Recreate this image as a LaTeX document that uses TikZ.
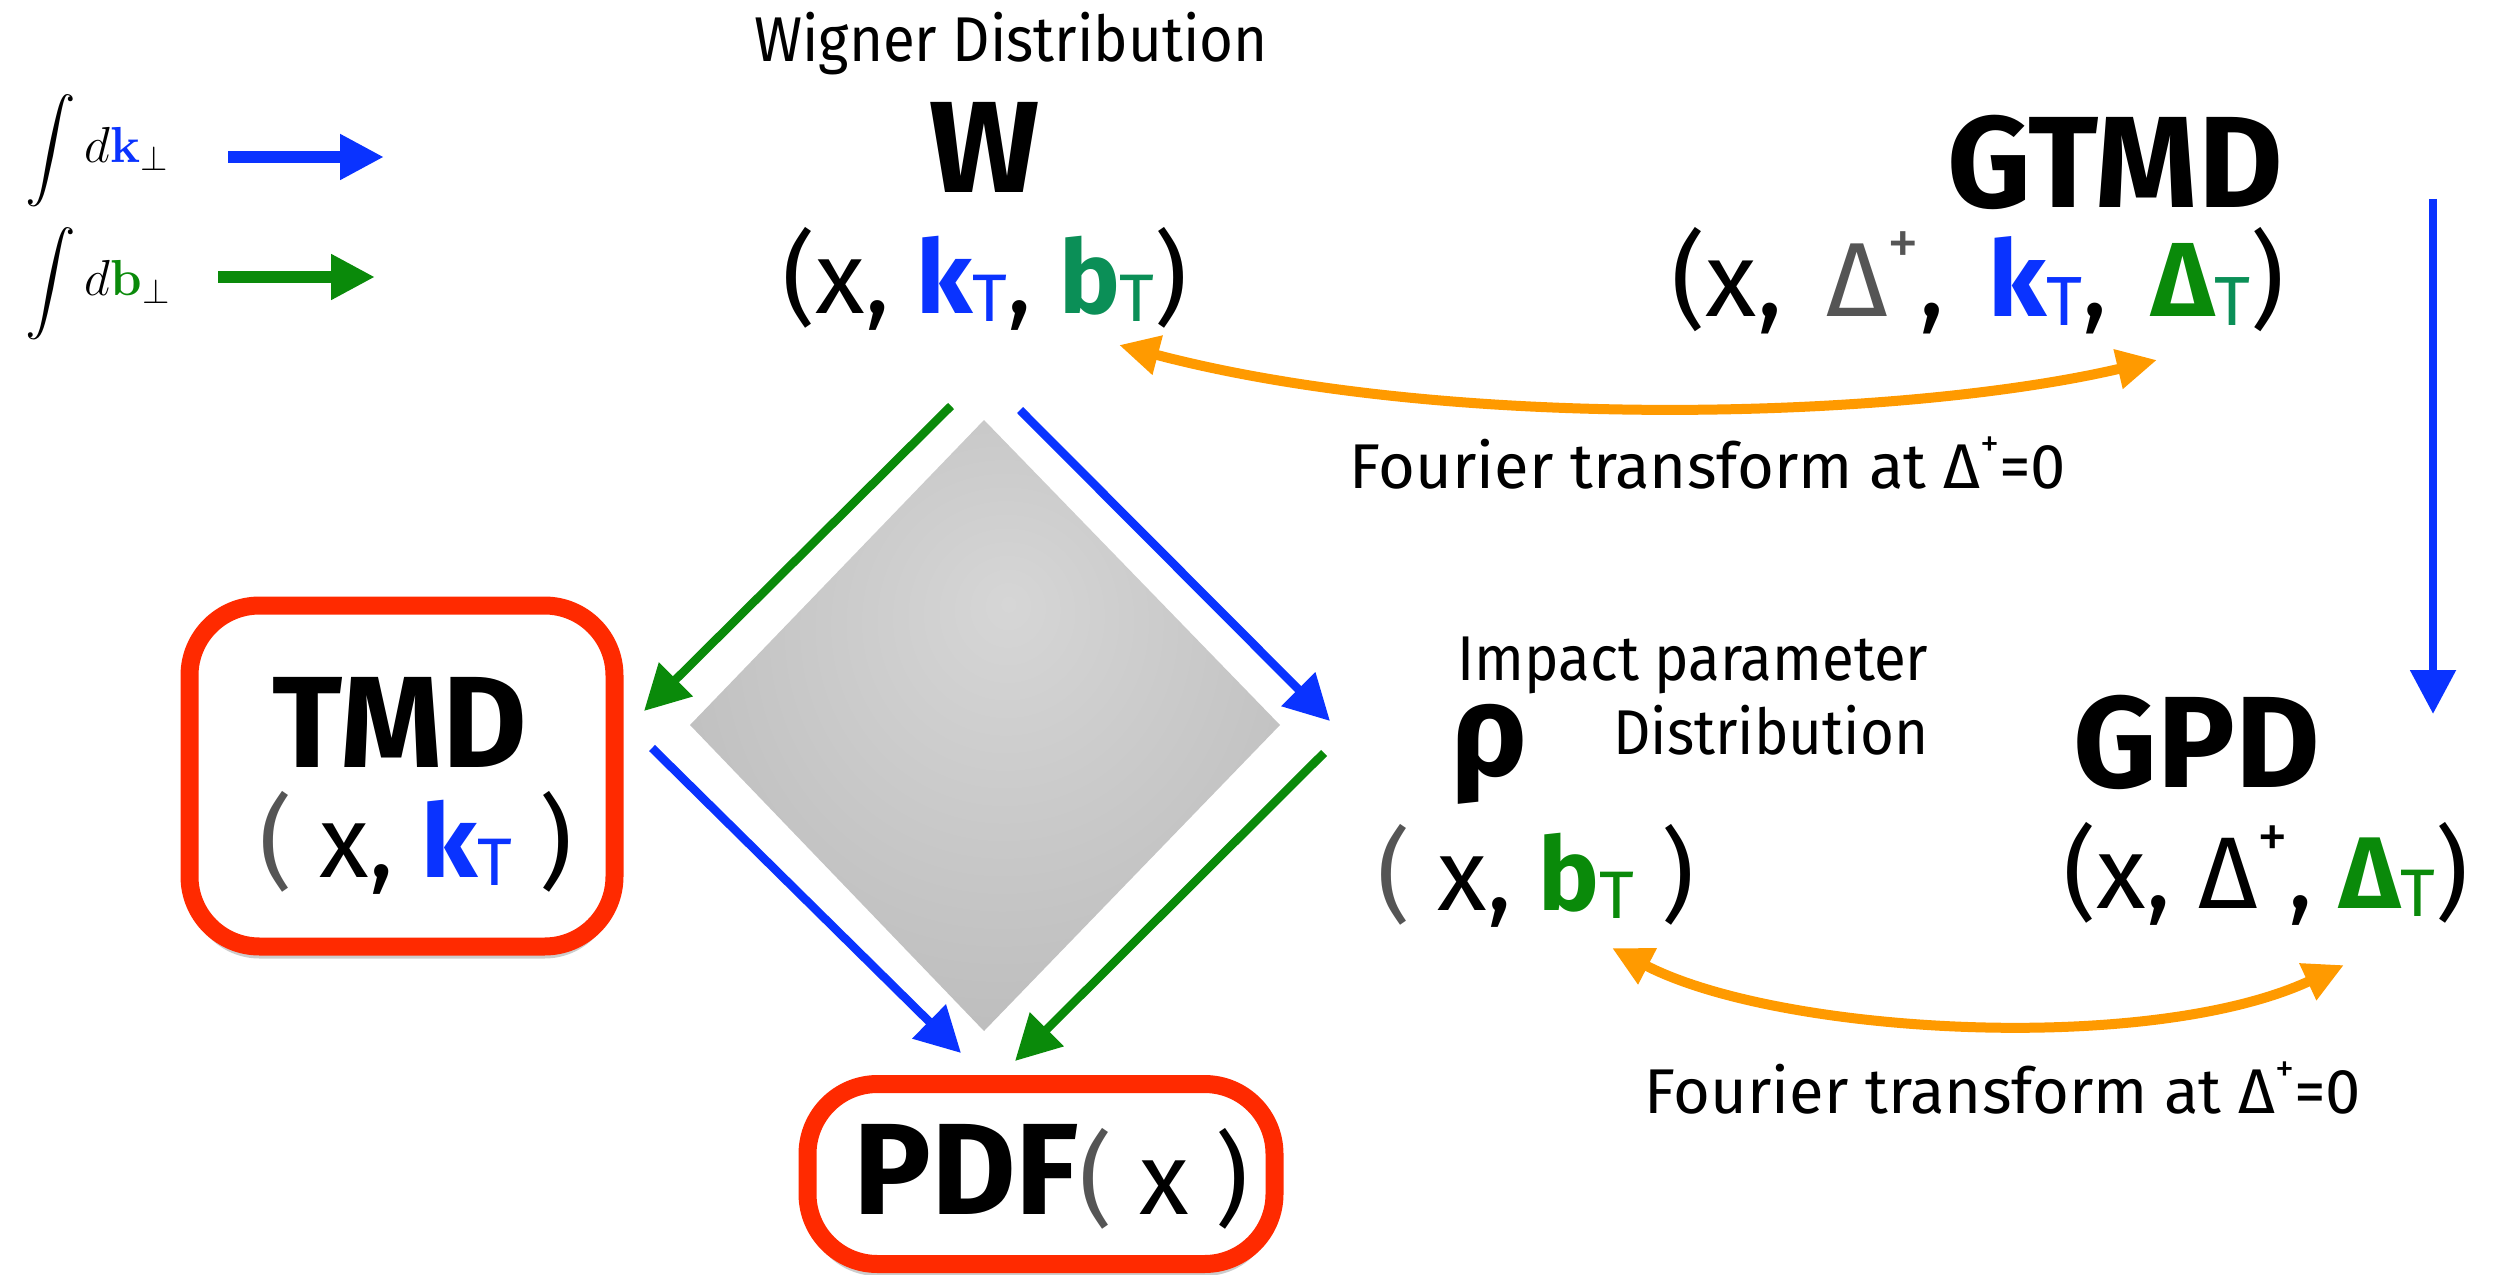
\documentclass[tikz,border=0pt]{standalone}
\usepackage{exscale}
\usepackage[no-math]{fontspec}
\setmainfont{Fira Sans}
\newfontfamily\narrowfont{Fira Sans}[FakeStretch=0.92]
\usepackage{graphicx}
\usetikzlibrary{arrows.meta,shadows}
\definecolor{kblue}{HTML}{0A33FF}
\definecolor{bgreen}{HTML}{0A8A0A}
\definecolor{tgreen}{HTML}{0B8F57}
\definecolor{fourier}{HTML}{FF9A00}
\definecolor{boxred}{HTML}{FF2A00}
\definecolor{dgray}{HTML}{555555}
\definecolor{diaA}{HTML}{D6D6D6}
\definecolor{diaB}{HTML}{ABABAB}
\pgfdeclareradialshading{diafill}{\pgfpoint{2bp}{10bp}}{color(0bp)=(diaA); color(55bp)=(diaB); color(80bp)=(diaB)}
\newcommand{\subT}{\raisebox{-0.08em}{\scalebox{0.66}{\mdseries T}}}
\newcommand{\supP}{\raisebox{0.5em}{\scalebox{0.6}{+}}}

\begin{document}
\begin{tikzpicture}[x=0.1mm,y=-0.1mm,>={Triangle[length=4.5mm,width=4.6mm]},
  every node/.style={inner sep=0pt},
  big/.style={font=\fontsize{37}{40}\selectfont\bfseries},
  argtext/.style={font=\fontsize{29}{32}\selectfont},
  note/.style={font=\fontsize{18}{21}\selectfont},
  thin note/.style={font=\fontsize{18}{21}\narrowfont},
  redbox/.style={draw=boxred,line width=1.8mm,fill=white,rounded corners=7mm,drop shadow={opacity=0.4,shadow xshift=0mm,shadow yshift=-1.2mm}},
  leg/.style={line width=1.2mm,-{Triangle[length=4.4mm,width=4.3mm]}},
  flow/.style={line width=0.85mm,->},
  ft/.style={line width=1mm,fourier,{Triangle[length=4mm,width=3.8mm]}-{Triangle[length=4mm,width=3.8mm]}}]
\useasboundingbox (0,0) rectangle (2495,1275);
% legend
\node[anchor=base west,font=\fontsize{14.4}{16}\selectfont] (lk) at (25,163) {$\displaystyle\int d{\color{kblue}\mathbf{k}}_\perp$};
\node[anchor=base west,font=\fontsize{14.4}{16}\selectfont] (lb) at (25,296) {$\displaystyle\int d{\color{bgreen}\mathbf{b}}_\perp$};
\coordinate (lk1) at (228,157); \coordinate (lk2) at (384,157);
\coordinate (lb1) at (218,277); \coordinate (lb2) at (375,277);
\draw[leg,kblue] (lk1)--(lk2);
\draw[leg,bgreen] (lb1)--(lb2);
% top row
\node[thin note,anchor=base] (wig) at (1011,62) {Wigner Distribution};
\node[big,anchor=base] (w) at (985,193) {W};
\node[argtext,anchor=base] (wargs) at (985,313) {(x, {\bfseries\color{kblue}k}{\color{kblue}\subT}, {\bfseries\color{tgreen}b}{\color{tgreen}\subT})};
\node[big,anchor=base] (gtmd) at (2115,208) {GTMD};
\node[font=\fontsize{30}{33}\selectfont,anchor=base] (gargs) at (1978,317) {(x,\hspace{0.15em} {\color{dgray}Δ\supP},\hspace{0.15em} {\bfseries\color{kblue}k}{\color{kblue}\subT},\hspace{0.15em} {\bfseries\color{bgreen}Δ}{\color{tgreen}\subT})};
\node[note,anchor=base] (ft1) at (1708,488) {Fourier transform at Δ\supP=0};
% diamond
\shade[shading=diafill] (984,420) -- (1280,725) -- (984,1031) -- (690,725) -- cycle;
% boxes
\node[redbox,minimum width=42.5mm,minimum height=34.1mm] (tmdbox) at (402,776) {};
\node[big,anchor=base] (tmd) at (400,767) {TMD};
\node[argtext,anchor=base] (tmdargs) at (416,877) {{\color{dgray}(} x, {\bfseries\color{kblue}k}{\color{kblue}\subT} )};
\node[redbox,minimum width=46.7mm,minimum height=18mm] (pdfbox) at (1041,1174) {};
\node[big,anchor=base] (pdf) at (1051,1214) {PDF{\mdseries\fontsize{29}{32}\selectfont{\color{dgray}(} x )}};
% right half
\node[big,anchor=base] (rho) at (1490,775) {ρ};
\node[thin note,anchor=base east] (imp) at (1929,680) {Impact parameter};
\node[thin note,anchor=base east] (dist) at (1929,754) {Distribution};
\node[argtext,anchor=base] (rhoargs) at (1536,910) {{\color{dgray}(} x, {\bfseries\color{bgreen}b}{\color{bgreen}\subT} )};
\node[big,anchor=base] (gpd) at (2197,787) {GPD};
\node[argtext,anchor=base] (gpdargs) at (2266,908) {(x, Δ\supP, {\bfseries\color{bgreen}Δ}{\color{bgreen}\subT})};
\node[note,anchor=base] (ft2) at (2003,1113) {Fourier transform at Δ\supP=0};
% connectors
\coordinate (wg) at (951,406); \coordinate (tmdg) at (644,711);
\coordinate (wb) at (1020,410); \coordinate (rhob) at (1330,721);
\coordinate (tmdb) at (652,748); \coordinate (pdfb) at (961,1053);
\coordinate (rhog) at (1324,753); \coordinate (pdfg) at (1015,1061);
\foreach \u/\v/\c in {wg/tmdg/bgreen,wb/rhob/kblue,tmdb/pdfb/kblue,rhog/pdfg/bgreen}{\draw[flow,\c] (\u)--(\v);}
\coordinate (gtmdd) at (2433,199); \coordinate (gpdu) at (2433,714);
\draw[flow,kblue,>={Triangle[length=4.4mm,width=4.4mm]}] (gtmdd)--(gpdu);
\coordinate (ft1a) at (1119,345); \coordinate (ft1b) at (2157,360);
\draw[ft] (ft1a) .. controls (1450,432) and (1900,420) .. (ft1b);
\coordinate (ft2a) at (1612,948); \coordinate (ft2b) at (2344,965);
\draw[ft] (ft2a) .. controls (1780,1035) and (2150,1055) .. (ft2b);
\end{tikzpicture}
\end{document}
